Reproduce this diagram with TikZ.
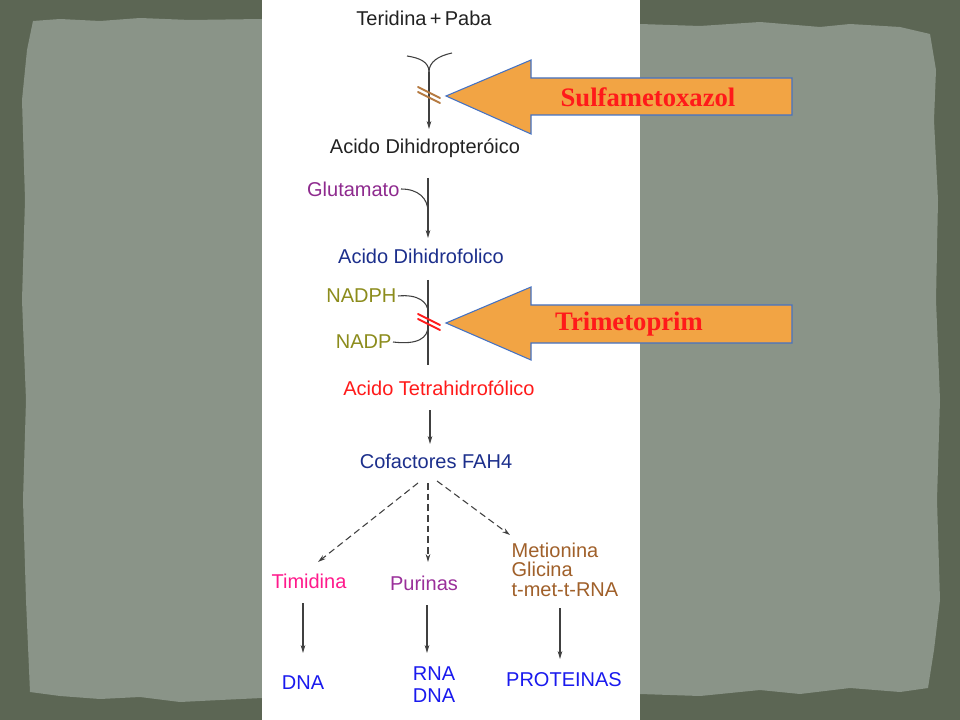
\documentclass[tikz,border=0pt]{standalone}
\usepackage{fontspec}
\setmainfont{Liberation Serif}
\newfontfamily\lsans{Liberation Sans}
\usetikzlibrary{arrows.meta,calc}
\definecolor{frame}{HTML}{5C6654}
\definecolor{paper}{HTML}{8A9488}
\definecolor{txtblack}{HTML}{222222}
\definecolor{glupurple}{HTML}{8E2A8E}
\definecolor{purpur}{HTML}{9A2F9A}
\definecolor{darkblue}{HTML}{1C2F8C}
\definecolor{olive}{HTML}{8C8C1C}
\definecolor{tred}{HTML}{FF1A1A}
\definecolor{magent}{HTML}{FF1A8C}
\definecolor{brownt}{HTML}{A0602A}
\definecolor{brightblue}{HTML}{1A1AEE}
\definecolor{arroworange}{HTML}{F2A444}
\definecolor{arrowblue}{HTML}{4472C4}
\definecolor{lbrown}{HTML}{B5793F}
\tikzset{
  lbl/.style={font=\lsans\fontsize{15}{18}\selectfont, inner sep=1pt},
  conn/.style={draw=black!75, line width=0.8pt},
  arr/.style={conn, -{Stealth[length=6pt,width=3.5pt]}},
  darr/.style={arr, dash pattern=on 5pt off 3pt},
  bigarrow/.style={fill=arroworange, draw=arrowblue, line width=0.8pt, line join=miter},
  druglbl/.style={font=\bfseries\fontsize{20}{24}\selectfont, text=tred, inner sep=0pt},
  blockmark/.style={line width=1.4pt, line cap=round}
}
\begin{document}
\begin{tikzpicture}[x=0.75pt,y=-0.75pt]
\useasboundingbox (0,0) rectangle (960,720);
% background
\fill[frame] (0,0) rectangle (960,720);
\fill[paper] (33,21) -- (60,19) -- (100,21) -- (140,18) -- (190,20) -- (262,19)
  -- (640,24) -- (700,26) -- (760,22) -- (820,27) -- (850,24) -- (900,27) -- (930,34)
  -- (936,70) -- (934,120) -- (938,200) -- (936,300) -- (940,400) -- (937,500)
  -- (940,600) -- (934,650) -- (928,688) -- (900,692) -- (850,688) -- (800,694)
  -- (760,690) -- (700,696) -- (640,694) -- (262,698) -- (220,700) -- (180,702)
  -- (140,697) -- (100,699) -- (60,696) -- (30,692) -- (26,600) -- (23,500)
  -- (26,400) -- (22,300) -- (25,200) -- (22,100) -- (27,50) -- cycle;
% white panel
\fill[white] (262,0) rectangle (640,720);

% nodes
\node[lbl, text=txtblack] (tp) at (424,18) {Teridina\,+\,Paba};
\node[lbl, text=txtblack] (adp) at (425,148) {Acido Dihidropteróico};
\node[lbl, text=glupurple, anchor=east] (glu) at (401,189) {Glutamato};
\node[lbl, text=darkblue] (adf) at (421,256) {Acido Dihidrofolico};
\node[lbl, text=olive, anchor=east] (nadph) at (398,296) {NADPH};
\node[lbl, text=olive, anchor=east] (nadp) at (393,342) {NADP};
\node[lbl, text=tred] (atf) at (439,388) {Acido Tetrahidrofólico};
\node[lbl, text=darkblue] (cof) at (436,461) {Cofactores FAH4};
\node[lbl, text=magent] (tim) at (309,581) {Timidina};
\node[lbl, text=purpur] (pur) at (424,583) {Purinas};
\node[lbl, text=brownt, align=left, anchor=north west, font=\lsans\fontsize{15}{14.6}\selectfont] (met) at (510,541) {Metionina\\Glicina\\t-met-t-RNA};
\node[lbl, text=brightblue] (dna) at (303,683) {DNA};
\node[lbl, text=brightblue, align=center, font=\lsans\fontsize{15}{16.5}\selectfont] (rnadna) at (434,685) {RNA\\DNA};
\node[lbl, text=brightblue] (prot) at (564,680) {PROTEINAS};

% step 1: Y shape
\coordinate (yl) at (407,56);
\coordinate (yr) at (452,53);
\coordinate (yj) at (429,72);
\coordinate (s1end) at (429,129);
\draw[conn] (yl) .. controls (420,58) and (429,62) .. (yj);
\draw[conn] (yr) .. controls (438,56) and (429,62) .. (yj);
\draw[arr] (yj) -- (s1end);
\coordinate (m1) at (429,95);
\draw[blockmark, lbrown] ($(m1)+(-11,-8)$) -- ($(m1)+(11,3)$);
\draw[blockmark, lbrown] ($(m1)+(-11,-3)$) -- ($(m1)+(11,8)$);

% step 2: glutamato
\coordinate (s2top) at (428,178);
\coordinate (s2join) at (428,212);
\coordinate (s2end) at (428,238);
\draw[conn] (s2top) -- (s2join);
\draw[conn] (glu.east) .. controls (418,189) and (428,198) .. (s2join);
\draw[arr] (s2join) -- (s2end);

% step 3: NADPH / NADP
\coordinate (s3top) at (428,280);
\coordinate (s3a) at (428,312);
\coordinate (s3b) at (428,326);
\coordinate (s3end) at (428,365);
\draw[conn] (s3top) -- (s3end);
\draw[conn] (nadph.east) .. controls (418,294) and (428,302) .. (s3a);
\draw[conn] (s3b) .. controls (428,338) and (418,345) .. (nadp.east);
\coordinate (m2) at (429,322);
\draw[blockmark, tred] ($(m2)+(-11,-8)$) -- ($(m2)+(11,3)$);
\draw[blockmark, tred] ($(m2)+(-11,-3)$) -- ($(m2)+(11,8)$);

% step 4
\coordinate (s4top) at (430,410);
\coordinate (s4end) at (430,444);
\draw[arr] (s4top) -- (s4end);

% dashed branches
\coordinate (b1s) at (418,483);
\coordinate (b1e) at (318,562);
\coordinate (b2s) at (428,483);
\coordinate (b2e) at (428,562);
\coordinate (b3s) at (437,481);
\coordinate (b3e) at (510,535);
\draw[darr] (b1s) -- (b1e);
\draw[darr] (b2s) -- (b2e);
\draw[darr] (b3s) -- (b3e);

% final arrows
\coordinate (f1s) at (303,603);
\coordinate (f1e) at (303,653);
\coordinate (f2s) at (427,605);
\coordinate (f2e) at (427,653);
\coordinate (f3s) at (560,608);
\coordinate (f3e) at (560,659);
\draw[arr] (f1s) -- (f1e);
\draw[arr] (f2s) -- (f2e);
\draw[arr] (f3s) -- (f3e);

% drug arrows
\draw[bigarrow] (446,96) -- (531,60) -- (531,78) -- (792,78) -- (792,115) -- (531,115) -- (531,134) -- cycle;
\node[druglbl] (sulfa) at (648,97) {Sulfametoxazol};
\draw[bigarrow] (446,323) -- (531,287) -- (531,305) -- (792,305) -- (792,343) -- (531,343) -- (531,360) -- cycle;
\node[druglbl] (trim) at (629,324) {Trimetoprim};
\end{tikzpicture}
\end{document}
